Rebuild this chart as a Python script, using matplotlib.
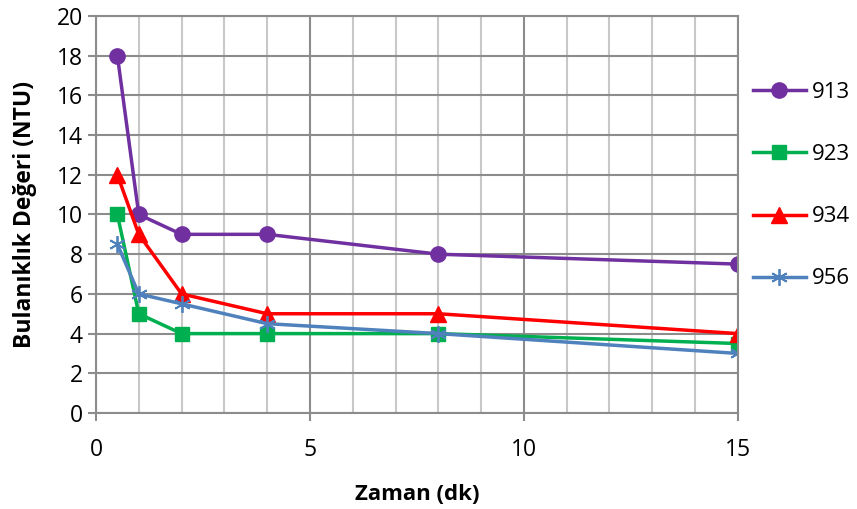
import matplotlib.pyplot as plt
import numpy as np

plt.rcParams['font.family'] = ['Open Sans', 'DejaVu Sans']

# zaman (dk)
x = [0.5, 1, 2, 4, 8, 15]
s913 = [18, 10, 9, 9, 8, 7.5]
s923 = [10, 5, 4, 4, 4, 3.5]
s934 = [12, 9, 6, 5, 5, 4]
s956 = [8.5, 6, 5.5, 4.5, 4, 3]
labels = ['913', '923', '934', '956']

fig = plt.figure(figsize=(8.57, 5.09), dpi=100)
ax = fig.add_axes([0.112, 0.1886, 0.749, 0.780])

ax.plot(x, s913, color='#7030A0', lw=2.5, marker='o', ms=11, label=labels[0])
ax.plot(x, s923, color='#00B050', lw=2.5, marker='s', ms=10, label=labels[1])
ax.plot(x, s934, color='#FF0000', lw=2.5, marker='^', ms=11, label=labels[2])
ax.plot(x, s956, color='#4F81BD', lw=2.5, marker=(6, 2, 0), ms=12, mew=1.3, label=labels[3])

ax.set_xlim(0, 15)
ax.set_ylim(0, 20)
ax.set_xticks([0, 5, 10, 15])
ax.set_xticks(np.arange(0, 16, 1), minor=True)
ax.set_yticks(np.arange(0, 21, 2))
ax.grid(which='minor', axis='x', color='#C8C8C8', lw=1.5)
ax.grid(which='major', axis='x', color='#8C8C8C', lw=1.5)
ax.grid(which='major', axis='y', color='#8C8C8C', lw=1.5)
ax.set_axisbelow(True)
ax.tick_params(which='minor', length=0)
ax.tick_params(which='major', length=6, width=1.5, color='#8C8C8C', labelsize=16.5)
ax.tick_params(axis='x', pad=12)
for s in ax.spines.values():
    s.set_color('#8C8C8C')
    s.set_linewidth(1.5)

ax.set_xlabel('Zaman (dk)', fontsize=16, fontweight='bold', labelpad=16)
ax.set_ylabel('Bulanıklık Değeri (NTU)', fontsize=16.5, fontweight='bold', labelpad=14)

h, l = ax.get_legend_handles_labels()
fig.legend(h, l, loc='upper left', bbox_to_anchor=(0.855, 0.878), frameon=False,
           fontsize=16, labelspacing=1.85, handlelength=2.4, handletextpad=0.27)

fig.savefig('out.png')
